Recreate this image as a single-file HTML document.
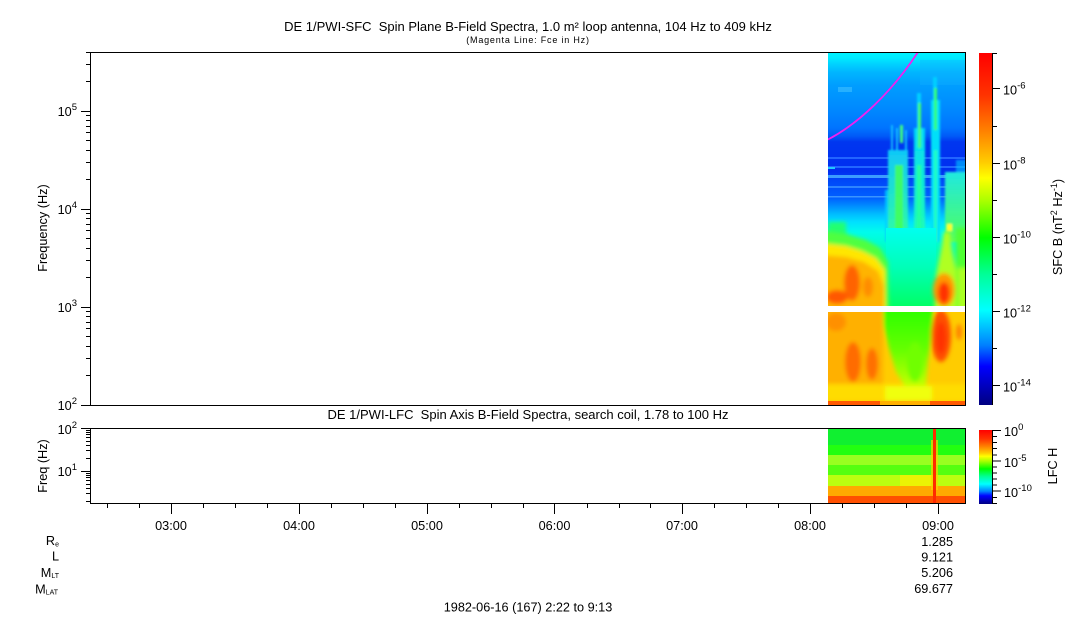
<!DOCTYPE html>
<html>
<head>
<meta charset="utf-8">
<style>
html,body{margin:0;padding:0;background:#fff;}
svg{display:block;}
text{font-family:"Liberation Sans",Arial,sans-serif;fill:#000;}
</style>
</head>
<body>
<svg width="1083" height="620" viewBox="0 0 1083 620" xmlns="http://www.w3.org/2000/svg">
<defs>
  <clipPath id="cu"><rect x="828" y="52" width="138" height="254"/></clipPath>
  <clipPath id="cl"><rect x="828" y="312" width="138" height="93"/></clipPath>
  <clipPath id="cb"><rect x="828" y="428" width="138" height="76"/></clipPath>
  <filter id="b1" x="-50%" y="-20%" width="200%" height="140%"><feGaussianBlur stdDeviation="1"/></filter>
  <filter id="b2" x="-50%" y="-50%" width="200%" height="200%"><feGaussianBlur stdDeviation="2"/></filter>
  <filter id="b3" x="-20%" y="-20%" width="140%" height="140%"><feGaussianBlur stdDeviation="3"/></filter>
  <linearGradient id="cmap" x1="0" y1="0" x2="0" y2="1">
    <stop offset="0" stop-color="#ff0000"/>
    <stop offset="0.12" stop-color="#ff3300"/>
    <stop offset="0.22" stop-color="#ff8000"/>
    <stop offset="0.31" stop-color="#ffcc00"/>
    <stop offset="0.355" stop-color="#ffff00"/>
    <stop offset="0.42" stop-color="#aaff00"/>
    <stop offset="0.525" stop-color="#00ff00"/>
    <stop offset="0.63" stop-color="#00ff99"/>
    <stop offset="0.73" stop-color="#00ffff"/>
    <stop offset="0.83" stop-color="#0080ff"/>
    <stop offset="0.89" stop-color="#0000ff"/>
    <stop offset="1" stop-color="#000080"/>
  </linearGradient>
  <linearGradient id="bgTop" gradientUnits="userSpaceOnUse" x1="0" y1="52" x2="0" y2="306">
    <stop offset="0" stop-color="#00f4ff"/>
    <stop offset="0.024" stop-color="#00eaff"/>
    <stop offset="0.047" stop-color="#00d2ff"/>
    <stop offset="0.079" stop-color="#00b6ff"/>
    <stop offset="0.13" stop-color="#009eff"/>
    <stop offset="0.228" stop-color="#0088ff"/>
    <stop offset="0.299" stop-color="#0074ff"/>
    <stop offset="0.331" stop-color="#005af8"/>
    <stop offset="0.354" stop-color="#0036f0"/>
    <stop offset="0.472" stop-color="#002ef0"/>
    <stop offset="0.504" stop-color="#0046f8"/>
    <stop offset="0.575" stop-color="#0060ff"/>
    <stop offset="0.606" stop-color="#008cff"/>
    <stop offset="0.638" stop-color="#00bcff"/>
    <stop offset="0.669" stop-color="#00e0ff"/>
    <stop offset="0.709" stop-color="#00fcec"/>
    <stop offset="0.78" stop-color="#00ffc0"/>
    <stop offset="1" stop-color="#00ff80"/>
  </linearGradient>
  <linearGradient id="colA" gradientUnits="userSpaceOnUse" x1="0" y1="150" x2="0" y2="240">
    <stop offset="0" stop-color="#10c8f8"/>
    <stop offset="1" stop-color="#30ffa0"/>
  </linearGradient>
  <linearGradient id="colB" gradientUnits="userSpaceOnUse" x1="0" y1="128" x2="0" y2="240">
    <stop offset="0" stop-color="#00d8f8"/>
    <stop offset="1" stop-color="#20ffb0"/>
  </linearGradient>
  <linearGradient id="rBlk" gradientUnits="userSpaceOnUse" x1="0" y1="172" x2="0" y2="240">
    <stop offset="0" stop-color="#20e8e0"/>
    <stop offset="1" stop-color="#50ff60"/>
  </linearGradient>
  <linearGradient id="midG" gradientUnits="userSpaceOnUse" x1="0" y1="228" x2="0" y2="306">
    <stop offset="0" stop-color="#00fff0"/>
    <stop offset="0.5" stop-color="#00ffb8"/>
    <stop offset="1" stop-color="#00ff66"/>
  </linearGradient>
  <linearGradient id="gM" gradientUnits="userSpaceOnUse" x1="0" y1="312" x2="0" y2="388">
    <stop offset="0" stop-color="#30ff00"/>
    <stop offset="0.5" stop-color="#66ff00"/>
    <stop offset="1" stop-color="#c8ff00"/>
  </linearGradient>
</defs>

<!-- Titles -->
<text x="528" y="31" font-size="13" text-anchor="middle">DE 1/PWI-SFC &#160;Spin Plane B-Field Spectra, 1.0 m² loop antenna, 104 Hz to 409 kHz</text>
<text x="528" y="43" font-size="9" text-anchor="middle" letter-spacing="0.8">(Magenta Line: Fce in Hz)</text>
<text x="528" y="419" font-size="13" text-anchor="middle">DE 1/PWI-LFC &#160;Spin Axis B-Field Spectra, search coil, 1.78 to 100 Hz</text>

<!-- Top spectrogram: upper part -->
<g clip-path="url(#cu)">
  <rect x="828" y="52" width="138" height="254" fill="url(#bgTop)"/>
  <rect x="838" y="87" width="14" height="5" fill="#40c0ff" opacity="0.6"/>
  <rect x="920" y="60" width="46" height="25" fill="#10b0ff" opacity="0.35"/>
  <rect x="828" y="157" width="138" height="2" fill="#2264ff"/>
  <rect x="828" y="166" width="138" height="2" fill="#2266ff"/>
  <rect x="828" y="175" width="138" height="3" fill="#3c9cff"/>
  <rect x="828" y="186" width="138" height="2" fill="#2e84ff"/>
  <rect x="828" y="196" width="138" height="1.5" fill="#3a94ff"/>
  <rect x="828" y="167" width="7" height="2" fill="#20c8ff"/>
  <g filter="url(#b1)">
    <!-- Column A -->
    <rect x="891" y="125" width="2" height="30" fill="#10c0ff"/>
    <rect x="896" y="128" width="2" height="30" fill="#10c8ff"/>
    <rect x="900" y="125" width="3" height="18" fill="#40ff80"/>
    <rect x="905" y="130" width="2" height="25" fill="#10c0ff"/>
    <rect x="888" y="150" width="20" height="92" fill="url(#colA)"/>
    <rect x="895" y="165" width="8" height="77" fill="#44ff55" opacity="0.85"/>
    <rect x="885" y="190" width="3" height="52" fill="#00d0ff" opacity="0.8"/>
    <!-- Column B -->
    <rect x="917" y="93" width="4" height="35" fill="#00d0ff"/>
    <rect x="914" y="128" width="11" height="114" fill="url(#colB)"/>
    <rect x="918" y="103" width="3" height="45" fill="#40ff70"/>
    <rect x="917" y="165" width="4" height="77" fill="#20ffa0"/>
    <!-- Column C -->
    <rect x="933" y="77" width="4" height="25" fill="#00d0ff"/>
    <rect x="931" y="100" width="9" height="142" fill="#00e0f8"/>
    <rect x="934" y="88" width="3" height="42" fill="#30ff70"/>
    <rect x="934" y="150" width="3" height="92" fill="#20ffc0"/>
    <!-- Right block -->
    <rect x="945" y="172" width="25" height="70" fill="url(#rBlk)"/>
    <rect x="956" y="160" width="14" height="12" fill="#00c8ff" opacity="0.6"/>
    <rect x="947" y="224" width="5" height="7" fill="#ffff20"/>
  </g>
  <rect x="828" y="222" width="18" height="20" fill="#20ff70" filter="url(#b2)"/>
  <!-- Lower part -->
  <rect x="886" y="228" width="50" height="78" fill="url(#midG)"/>
  <g filter="url(#b2)">
    <polygon points="820,230 846,234 866,240 880,248 888,262 889,316 820,316" fill="#50ff40"/>
    <polygon points="820,243 846,246 862,251 876,258 885,270 886,316 820,316" fill="#ffe600"/>
    <polygon points="820,255 846,257 864,262 878,271 884,286 884,316 820,316" fill="#ffb400"/>
    <polygon points="944,232 950,232 952,250 956,270 956,316 934,316 936,275 941,250" fill="#b0ff20"/>
    <rect x="956" y="228" width="16" height="88" fill="#50ff30"/>
    <rect x="958" y="268" width="14" height="48" fill="#aaff20"/>
    <ellipse cx="852" cy="283" rx="8" ry="18" fill="#ff6400"/>
    <ellipse cx="837" cy="297" rx="11" ry="7" fill="#ff5800"/>
    <ellipse cx="868" cy="287" rx="5" ry="10" fill="#ff8c00"/>
    <ellipse cx="944" cy="290" rx="11" ry="17" fill="#ff9a00"/>
    <ellipse cx="944" cy="293" rx="6" ry="11" fill="#ff3000"/>
  </g>
</g>

<!-- Top spectrogram: below gap -->
<g clip-path="url(#cl)">
  <rect x="828" y="312" width="138" height="93" fill="#ffcc00"/>
  <g filter="url(#b2)">
    <rect x="820" y="305" width="63" height="79" fill="#ffb000"/>
    <rect x="820" y="384" width="150" height="17" fill="#ffdc00"/>
    <polygon points="883,305 933,305 932,332 928,360 926,386 906,388 896,372 889,348 884,326" fill="url(#gM)"/>
    <rect x="885" y="386" width="47" height="15" fill="#f0ff10"/>
    <ellipse cx="836" cy="322" rx="10" ry="9" fill="#ff9000"/>
    <ellipse cx="853" cy="362" rx="8" ry="20" fill="#ff6c00"/>
    <ellipse cx="872" cy="364" rx="6" ry="16" fill="#ff7000"/>
    <ellipse cx="915" cy="362" rx="8" ry="20" fill="#70ff00"/>
    <ellipse cx="941" cy="336" rx="10" ry="26" fill="#ff5000"/>
    <ellipse cx="941" cy="338" rx="5" ry="16" fill="#ff3000"/>
    <ellipse cx="959" cy="332" rx="3" ry="8" fill="#ff8000"/>
  </g>
  <rect x="828" y="401" width="138" height="4" fill="#ff5a00"/>
  <rect x="880" y="401" width="50" height="4" fill="#ffb000"/>
</g>

<!-- Magenta Fce line -->
<g clip-path="url(#cu)">
  <path d="M828,139.5 C858,124 892,92 918,52" fill="none" stroke="#f020f0" stroke-width="1.8"/>
</g>

<!-- Bottom spectrogram -->
<g clip-path="url(#cb)">
  <rect x="828" y="428" width="138" height="17" fill="#10f030"/>
  <rect x="828" y="445" width="138" height="10" fill="#22ff10"/>
  <rect x="828" y="455" width="138" height="10" fill="#99ff20"/>
  <rect x="828" y="465" width="138" height="10" fill="#55ff10"/>
  <rect x="828" y="475" width="138" height="11" fill="#bbff10"/>
  <rect x="900" y="475" width="32" height="11" fill="#ffee00" opacity="0.7"/>
  <rect x="828" y="486" width="138" height="10" fill="#ffaa00"/>
  <rect x="828" y="496" width="138" height="8" fill="#ff5000"/>
  <rect x="931" y="440" width="7" height="50" fill="#ffd000" opacity="0.7"/>
  <rect x="933" y="428" width="3" height="76" fill="#ff2a00"/>
</g>

<!-- Frames -->
<rect x="90.5" y="52.5" width="875" height="353" fill="none" stroke="#000" stroke-width="1"/>
<rect x="90.5" y="428.5" width="875" height="75" fill="none" stroke="#000" stroke-width="1"/>

<!-- Top panel y ticks -->
<path d="M81 111.5H90M81 209.5H90M81 307.5H90M81 405.5H90
M86 375.5H90M86 358.5H90M86 346.5H90M86 336.5H90M86 328.5H90M86 322.5H90M86 316.5H90M86 311.5H90
M86 277.5H90M86 260.5H90M86 248.5H90M86 238.5H90M86 230.5H90M86 224.5H90M86 218.5H90M86 213.5H90
M86 179.5H90M86 162.5H90M86 150.5H90M86 140.5H90M86 132.5H90M86 126.5H90M86 120.5H90M86 115.5H90
M86 81.5H90M86 64.5H90M86 52.5H90" stroke="#000" stroke-width="1" fill="none"/>
<text x="77" y="116" font-size="12.7" text-anchor="end">10<tspan dy="-6" font-size="9.5">5</tspan></text>
<text x="77" y="214" font-size="12.7" text-anchor="end">10<tspan dy="-6" font-size="9.5">4</tspan></text>
<text x="77" y="312" font-size="12.7" text-anchor="end">10<tspan dy="-6" font-size="9.5">3</tspan></text>
<text x="77" y="410" font-size="12.7" text-anchor="end">10<tspan dy="-6" font-size="9.5">2</tspan></text>
<text transform="translate(47,228) rotate(-90)" font-size="12.7" text-anchor="middle">Frequency (Hz)</text>

<!-- Bottom panel y ticks -->
<path d="M81 428.5H90M81 471.5H90
M86 458.5H90M86 450.5H90M86 445.5H90M86 441.5H90M86 437.5H90M86 434.5H90M86 432.5H90M86 430.5H90
M86 501.5H90M86 493.5H90M86 488.5H90M86 484.5H90M86 480.5H90M86 477.5H90M86 475.5H90M86 473.5H90" stroke="#000" stroke-width="1" fill="none"/>
<text x="77" y="434" font-size="12.7" text-anchor="end">10<tspan dy="-6" font-size="9.5">2</tspan></text>
<text x="77" y="476" font-size="12.7" text-anchor="end">10<tspan dy="-6" font-size="9.5">1</tspan></text>
<text transform="translate(47,466) rotate(-90)" font-size="12.7" text-anchor="middle">Freq (Hz)</text>

<!-- Time axis ticks -->
<path d="M171.5 504V514M299.5 504V514M427.5 504V514M554.5 504V514M682.5 504V514M810.5 504V514M938.5 504V514
M107.5 504V508M139.5 504V508M203.5 504V508M235.5 504V508M267.5 504V508M331.5 504V508M363.5 504V508M395.5 504V508
M459.5 504V508M491.5 504V508M523.5 504V508M587.5 504V508M619.5 504V508M650.5 504V508M714.5 504V508M746.5 504V508
M778.5 504V508M842.5 504V508M874.5 504V508M906.5 504V508" stroke="#000" stroke-width="1" fill="none"/>
<g font-size="12.7" text-anchor="middle">
  <text x="171" y="530">03:00</text>
  <text x="299" y="530">04:00</text>
  <text x="427" y="530">05:00</text>
  <text x="554.5" y="530">06:00</text>
  <text x="682" y="530">07:00</text>
  <text x="810" y="530">08:00</text>
  <text x="938" y="530">09:00</text>
</g>

<!-- Orbit labels -->
<g font-size="12.7" text-anchor="end">
  <text x="59" y="545">R<tspan font-size="7" dy="1.5">e</tspan></text>
  <text x="59" y="560.5">L</text>
  <text x="59" y="577">M<tspan font-size="7" dy="1">LT</tspan></text>
  <text x="58" y="593.5">M<tspan font-size="7" dy="1">LAT</tspan></text>
  <text x="953" y="546">1.285</text>
  <text x="953" y="561.5">9.121</text>
  <text x="953" y="577">5.206</text>
  <text x="953" y="593">69.677</text>
</g>
<text x="528" y="611.5" font-size="12.7" text-anchor="middle">1982-06-16 (167) 2:22 to 9:13</text>

<!-- Top colorbar -->
<rect x="979" y="53" width="13" height="352" fill="url(#cmap)"/>
<path d="M992.5 53V405
M992 88.5H1000M992 163.5H1000M992 237.5H1000M992 311.5H1000M992 385.5H1000
M992 53.5H997M992 126.5H997M992 200.5H997M992 274.5H997M992 348.5H997" stroke="#000" stroke-width="1" fill="none"/>
<g font-size="12.7">
  <text x="1003" y="94.5">10<tspan dy="-6" font-size="9.5">-6</tspan></text>
  <text x="1003" y="169.5">10<tspan dy="-6" font-size="9.5">-8</tspan></text>
  <text x="1003" y="243.5">10<tspan dy="-6" font-size="9.5">-10</tspan></text>
  <text x="1003" y="317.5">10<tspan dy="-6" font-size="9.5">-12</tspan></text>
  <text x="1003" y="391.5">10<tspan dy="-6" font-size="9.5">-14</tspan></text>
</g>
<text transform="translate(1062,227) rotate(-90)" font-size="12.7" text-anchor="middle">SFC B (nT<tspan dy="-5" font-size="9">2</tspan><tspan dy="5"> Hz</tspan><tspan dy="-5" font-size="9">-1</tspan><tspan dy="5">)</tspan></text>

<!-- Bottom colorbar -->
<rect x="979" y="430" width="13" height="74" fill="url(#cmap)"/>
<path d="M992.5 430V504
M992 430.5H1001M992 461H1001M992 491H1001
M992 436.5H997M992 442.5H997M992 448.5H997M992 455H997M992 467H997M992 473H997M992 479H997M992 485H997M992 497.5H997M992 503.5H997" stroke="#000" stroke-width="1" fill="none"/>
<g font-size="12.7">
  <text x="1004" y="436">10<tspan dy="-6" font-size="9.5">0</tspan></text>
  <text x="1004" y="467">10<tspan dy="-6" font-size="9.5">-5</tspan></text>
  <text x="1004" y="497">10<tspan dy="-6" font-size="9.5">-10</tspan></text>
</g>
<text transform="translate(1057,466) rotate(-90)" font-size="12.7" text-anchor="middle">LFC H</text>
</svg>
</body>
</html>
